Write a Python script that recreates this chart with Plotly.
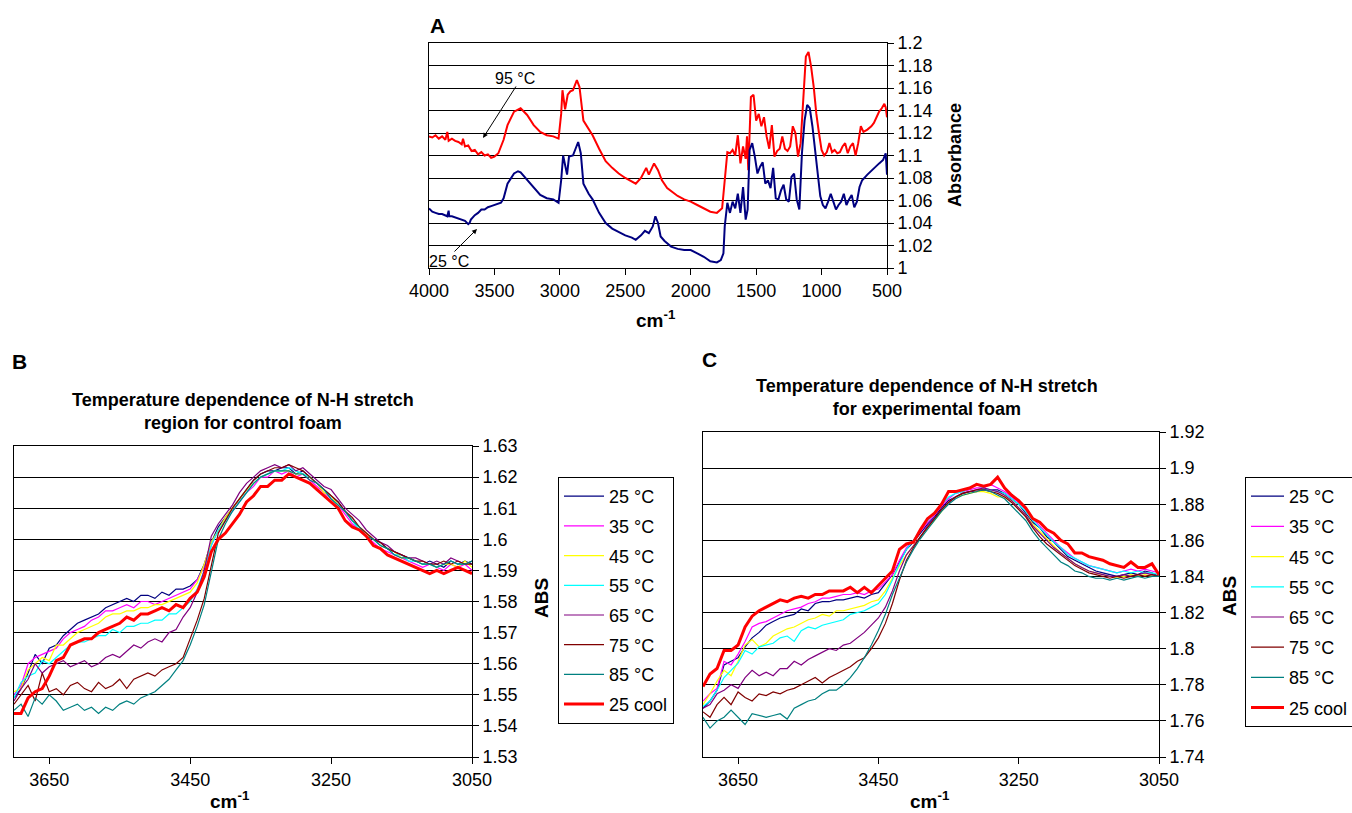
import plotly.graph_objects as go

# ---------------- Panel A data ----------------
A_RED_WN = [4000, 3975, 3950, 3925, 3900, 3875, 3860, 3850, 3825, 3800,
            3775, 3750, 3740, 3725, 3700, 3675, 3650, 3625, 3600, 3575,
            3550, 3525, 3500, 3470, 3430, 3400, 3350, 3300, 3250, 3200, 3150,
            3100, 3050, 3010, 2990, 2980, 2960, 2940, 2920, 2900, 2870,
            2850, 2820, 2780, 2750, 2700, 2650, 2600, 2550, 2500, 2450,
            2420, 2380, 2340, 2320, 2280, 2250, 2220, 2180, 2100, 2050,
            2000, 1950, 1900, 1850, 1800, 1760, 1740, 1720, 1700, 1680,
            1660, 1640, 1620, 1600, 1580, 1570, 1560, 1540, 1520, 1500,
            1480, 1460, 1440, 1420, 1400, 1380, 1360, 1340, 1320, 1300,
            1280, 1260, 1240, 1220, 1200, 1180, 1160, 1140, 1120, 1100,
            1080, 1060, 1040, 1020, 1000, 980, 960, 940, 920, 900,
            880, 860, 840, 820, 800, 780, 760, 740, 720, 700,
            680, 650, 620, 600, 580, 560, 540, 520, 510, 500]
A_RED_ABS = [1.117, 1.116, 1.118, 1.115, 1.117, 1.114, 1.121, 1.113, 1.115, 1.113,
             1.112, 1.110, 1.115, 1.108, 1.109, 1.104, 1.105, 1.101, 1.103, 1.100,
             1.101, 1.098, 1.099, 1.102, 1.114, 1.127, 1.139, 1.142, 1.136, 1.127, 1.121,
             1.118, 1.117, 1.115, 1.137, 1.158, 1.141, 1.154, 1.157, 1.158, 1.167,
             1.161, 1.131, 1.123, 1.118, 1.106, 1.095, 1.089, 1.084, 1.080, 1.077,
             1.075, 1.080, 1.089, 1.083, 1.093, 1.087, 1.078, 1.071, 1.064, 1.061,
             1.059, 1.056, 1.053, 1.050, 1.049, 1.053, 1.078, 1.103, 1.102, 1.105,
             1.100, 1.118, 1.093, 1.108, 1.097, 1.117, 1.087, 1.152, 1.154, 1.131,
             1.137, 1.126, 1.134, 1.117, 1.106, 1.127, 1.099, 1.104, 1.106, 1.117,
             1.106, 1.104, 1.108, 1.126, 1.120, 1.099, 1.111, 1.155, 1.188, 1.192,
             1.179, 1.161, 1.137, 1.120, 1.105, 1.100, 1.103, 1.111, 1.103, 1.105,
             1.102, 1.103, 1.108, 1.111, 1.102, 1.108, 1.111, 1.100, 1.111, 1.126,
             1.121, 1.123, 1.126, 1.129, 1.134, 1.139, 1.142, 1.146, 1.143, 1.134]

A_BLUE_WN = [4000, 3975, 3950, 3925, 3900, 3875, 3860, 3850, 3845, 3825,
             3800, 3775, 3750, 3725, 3700, 3690, 3680, 3650, 3625, 3600,
             3575, 3550, 3525, 3500, 3475, 3450,
             3430, 3400, 3350, 3320, 3300, 3250,
             3200, 3150, 3100, 3050, 3010, 2990, 2975, 2960, 2945, 2930,
             2900, 2880, 2860, 2840, 2820, 2780, 2750, 2700, 2650, 2600,
             2550, 2500, 2450, 2420, 2380, 2350, 2320, 2290, 2270, 2250,
             2230, 2200, 2150, 2100, 2050, 2000, 1950, 1900, 1850, 1800,
             1770, 1750, 1740, 1720, 1700, 1680, 1660, 1640, 1620, 1600,
             1580, 1565, 1550, 1530, 1510, 1490, 1470, 1450, 1430, 1410,
             1390, 1370, 1350, 1330, 1310, 1290, 1270, 1250, 1230, 1210,
             1190, 1170, 1150, 1130, 1110, 1090, 1070, 1050, 1030, 1010,
             990, 970, 950, 930, 910, 890, 870, 850, 830, 810,
             790, 770, 750, 730, 710, 690, 650, 600, 560, 530,
             510, 500]
A_BLUE_ABS = [1.053, 1.050, 1.049, 1.048, 1.048, 1.047, 1.046, 1.051, 1.046, 1.046,
              1.045, 1.044, 1.043, 1.042, 1.039, 1.040, 1.043, 1.047, 1.049, 1.052,
              1.052, 1.054, 1.055, 1.056, 1.057, 1.058,
              1.062, 1.075, 1.084, 1.086, 1.085, 1.078,
              1.071, 1.065, 1.062, 1.061, 1.058, 1.078, 1.100, 1.090, 1.083, 1.099,
              1.100, 1.106, 1.112, 1.102, 1.075, 1.066, 1.061, 1.049, 1.040, 1.035,
              1.032, 1.029, 1.027, 1.025, 1.029, 1.033, 1.031, 1.037, 1.046, 1.040,
              1.028, 1.024, 1.019, 1.017, 1.016, 1.016, 1.013, 1.010, 1.006, 1.005,
              1.007, 1.013, 1.037, 1.058, 1.049, 1.059, 1.053, 1.066, 1.049, 1.072,
              1.043, 1.052, 1.105, 1.111, 1.099, 1.084, 1.090, 1.094, 1.075, 1.078,
              1.071, 1.089, 1.062, 1.061, 1.069, 1.074, 1.061, 1.059, 1.081, 1.084,
              1.061, 1.052, 1.102, 1.131, 1.145, 1.142, 1.126, 1.105, 1.081, 1.064,
              1.056, 1.053, 1.059, 1.066, 1.059, 1.052, 1.056, 1.059, 1.066, 1.056,
              1.061, 1.065, 1.054, 1.059, 1.072, 1.078, 1.083, 1.089, 1.093, 1.096,
              1.102, 1.083]

# ---------------- Panels B and C data ----------------
WN = list(range(3700, 3049, -10))          # 3700 ... 3050 cm-1
LABELS = ["25 °C", "35 °C", "45 °C", "55 °C", "65 °C", "75 °C", "85 °C", "25 cool"]
COLORS = ["#000080", "#FF00FF", "#FFFF00", "#00FFFF", "#800080", "#800000", "#008080", "#FF0000"]

B_25 = [1.549, 1.552, 1.557, 1.563, 1.560, 1.565, 1.566, 1.569, 1.571, 1.573, 1.574, 1.575, 1.576, 1.578,
        1.579, 1.580, 1.581, 1.580, 1.582, 1.582, 1.581, 1.583, 1.582, 1.584, 1.584, 1.585, 1.587,
        1.592, 1.599, 1.604, 1.607, 1.610, 1.613, 1.616, 1.619, 1.621, 1.622, 1.622, 1.623, 1.623,
        1.621, 1.622, 1.620, 1.618, 1.616, 1.614, 1.612, 1.609, 1.606, 1.604, 1.602, 1.600, 1.599,
        1.597, 1.596, 1.595, 1.594, 1.593, 1.592, 1.593, 1.592, 1.591, 1.593, 1.592, 1.593, 1.592]
B_35 = [1.550, 1.553, 1.560, 1.562, 1.563, 1.564, 1.565, 1.568, 1.570, 1.571, 1.572, 1.574, 1.575, 1.577,
        1.577, 1.578, 1.579, 1.578, 1.580, 1.580, 1.579, 1.580, 1.581, 1.582, 1.583, 1.584, 1.587,
        1.591, 1.598, 1.603, 1.606, 1.609, 1.612, 1.615, 1.617, 1.620, 1.620, 1.622, 1.621, 1.622,
        1.620, 1.621, 1.619, 1.617, 1.615, 1.613, 1.611, 1.608, 1.605, 1.603, 1.601, 1.599, 1.597,
        1.596, 1.595, 1.594, 1.593, 1.592, 1.591, 1.592, 1.591, 1.590, 1.592, 1.591, 1.592, 1.590]
B_45 = [1.551, 1.552, 1.558, 1.560, 1.562, 1.561, 1.566, 1.566, 1.568, 1.570, 1.571, 1.572, 1.573, 1.575,
        1.576, 1.576, 1.577, 1.577, 1.578, 1.578, 1.579, 1.579, 1.580, 1.581, 1.582, 1.583, 1.586,
        1.592, 1.599, 1.603, 1.607, 1.610, 1.613, 1.616, 1.618, 1.620, 1.621, 1.622, 1.622, 1.622,
        1.621, 1.621, 1.620, 1.618, 1.615, 1.614, 1.611, 1.609, 1.606, 1.604, 1.602, 1.600, 1.598,
        1.597, 1.596, 1.594, 1.594, 1.593, 1.592, 1.592, 1.591, 1.592, 1.592, 1.591, 1.593, 1.591]
B_55 = [1.549, 1.554, 1.556, 1.557, 1.561, 1.560, 1.562, 1.564, 1.566, 1.567, 1.567, 1.568, 1.569, 1.569,
        1.571, 1.570, 1.572, 1.572, 1.573, 1.573, 1.574, 1.574, 1.576, 1.576, 1.578, 1.580, 1.584,
        1.590, 1.598, 1.603, 1.606, 1.609, 1.612, 1.615, 1.618, 1.620, 1.621, 1.622, 1.622, 1.623,
        1.622, 1.621, 1.620, 1.618, 1.616, 1.613, 1.611, 1.609, 1.606, 1.603, 1.601, 1.600, 1.598,
        1.597, 1.595, 1.595, 1.593, 1.593, 1.592, 1.592, 1.591, 1.592, 1.593, 1.592, 1.592, 1.593]
B_65 = [1.548, 1.552, 1.555, 1.560, 1.557, 1.559, 1.560, 1.561, 1.559, 1.560, 1.561, 1.559, 1.560, 1.562,
        1.563, 1.562, 1.564, 1.566, 1.565, 1.567, 1.568, 1.567, 1.570, 1.571, 1.575, 1.578, 1.583,
        1.590, 1.601, 1.605, 1.608, 1.611, 1.615, 1.618, 1.620, 1.622, 1.623, 1.624, 1.623, 1.624,
        1.622, 1.623, 1.621, 1.619, 1.617, 1.616, 1.613, 1.610, 1.608, 1.606, 1.603, 1.601, 1.599,
        1.598, 1.596, 1.595, 1.594, 1.594, 1.593, 1.592, 1.593, 1.592, 1.594, 1.593, 1.592, 1.593]
B_75 = [1.547, 1.550, 1.553, 1.548, 1.557, 1.551, 1.552, 1.550, 1.553, 1.554, 1.552, 1.551, 1.554, 1.552,
        1.553, 1.555, 1.552, 1.555, 1.556, 1.557, 1.556, 1.558, 1.559, 1.560, 1.562, 1.568, 1.574,
        1.581, 1.592, 1.602, 1.606, 1.610, 1.613, 1.616, 1.619, 1.621, 1.622, 1.623, 1.623, 1.624,
        1.623, 1.622, 1.620, 1.618, 1.616, 1.614, 1.612, 1.609, 1.607, 1.604, 1.602, 1.600, 1.599,
        1.597, 1.596, 1.595, 1.594, 1.593, 1.593, 1.592, 1.592, 1.593, 1.592, 1.593, 1.592, 1.592]
B_85 = [1.545, 1.547, 1.543, 1.549, 1.547, 1.550, 1.548, 1.545, 1.546, 1.547, 1.545, 1.546, 1.544, 1.546,
        1.545, 1.547, 1.548, 1.547, 1.549, 1.550, 1.551, 1.553, 1.555, 1.558, 1.561, 1.566, 1.572,
        1.579, 1.590, 1.600, 1.605, 1.609, 1.612, 1.615, 1.618, 1.620, 1.621, 1.622, 1.622, 1.622,
        1.621, 1.621, 1.619, 1.618, 1.616, 1.613, 1.611, 1.609, 1.606, 1.604, 1.601, 1.600, 1.598,
        1.597, 1.595, 1.594, 1.594, 1.593, 1.592, 1.592, 1.591, 1.592, 1.593, 1.592, 1.592, 1.593]
B_COOL = [1.544, 1.544, 1.549, 1.551, 1.552, 1.556, 1.561, 1.562, 1.566, 1.567, 1.568, 1.568, 1.570, 1.571,
          1.572, 1.573, 1.575, 1.574, 1.576, 1.576, 1.577, 1.578, 1.577, 1.579, 1.578, 1.581, 1.583,
          1.588, 1.596, 1.600, 1.602, 1.605, 1.608, 1.612, 1.614, 1.617, 1.617, 1.619, 1.619, 1.621,
          1.620, 1.619, 1.618, 1.616, 1.614, 1.612, 1.610, 1.606, 1.604, 1.603, 1.601, 1.598, 1.597,
          1.595, 1.594, 1.593, 1.592, 1.591, 1.590, 1.589, 1.590, 1.589, 1.590, 1.591, 1.590, 1.589]

C_25 = [1.767, 1.771, 1.777, 1.791, 1.793, 1.795, 1.801, 1.806, 1.809, 1.813, 1.815, 1.817, 1.818, 1.819,
        1.822, 1.821, 1.825, 1.826, 1.826, 1.827, 1.827, 1.828, 1.829, 1.828, 1.830, 1.831, 1.836,
        1.841, 1.848, 1.855, 1.859, 1.864, 1.869, 1.873, 1.878, 1.882, 1.884, 1.886, 1.887, 1.887,
        1.888, 1.888, 1.888, 1.886, 1.883, 1.880, 1.875, 1.870, 1.867, 1.862, 1.859, 1.855, 1.851,
        1.849, 1.847, 1.845, 1.843, 1.842, 1.841, 1.840, 1.841, 1.842, 1.841, 1.843, 1.842, 1.840]
C_35 = [1.771, 1.775, 1.778, 1.793, 1.791, 1.797, 1.804, 1.812, 1.814, 1.815, 1.817, 1.819, 1.821, 1.822,
        1.823, 1.825, 1.826, 1.828, 1.828, 1.829, 1.830, 1.830, 1.831, 1.830, 1.832, 1.833, 1.837,
        1.841, 1.849, 1.856, 1.860, 1.865, 1.870, 1.874, 1.879, 1.883, 1.886, 1.887, 1.888, 1.889,
        1.889, 1.891, 1.889, 1.887, 1.884, 1.881, 1.877, 1.872, 1.868, 1.864, 1.860, 1.856, 1.853,
        1.850, 1.848, 1.846, 1.845, 1.844, 1.843, 1.842, 1.843, 1.844, 1.843, 1.844, 1.843, 1.842]
C_45 = [1.769, 1.775, 1.782, 1.788, 1.785, 1.793, 1.802, 1.805, 1.801, 1.803, 1.807, 1.809, 1.811, 1.812,
        1.814, 1.816, 1.817, 1.819, 1.818, 1.821, 1.821, 1.822, 1.823, 1.824, 1.826, 1.827, 1.832,
        1.839, 1.846, 1.852, 1.857, 1.862, 1.867, 1.871, 1.876, 1.881, 1.884, 1.885, 1.886, 1.887,
        1.887, 1.886, 1.884, 1.884, 1.882, 1.878, 1.874, 1.869, 1.865, 1.861, 1.857, 1.853, 1.850,
        1.847, 1.845, 1.843, 1.842, 1.841, 1.840, 1.839, 1.840, 1.841, 1.840, 1.841, 1.840, 1.840]
C_55 = [1.768, 1.771, 1.777, 1.784, 1.788, 1.792, 1.799, 1.797, 1.801, 1.802, 1.803, 1.806, 1.807, 1.804,
        1.810, 1.812, 1.811, 1.813, 1.814, 1.815, 1.816, 1.819, 1.820, 1.821, 1.823, 1.825, 1.830,
        1.838, 1.847, 1.855, 1.860, 1.866, 1.871, 1.875, 1.880, 1.884, 1.886, 1.887, 1.889, 1.891,
        1.889, 1.888, 1.887, 1.886, 1.883, 1.880, 1.876, 1.871, 1.867, 1.863, 1.859, 1.856, 1.852,
        1.850, 1.848, 1.846, 1.845, 1.844, 1.843, 1.842, 1.843, 1.842, 1.843, 1.842, 1.842, 1.841]
C_65 = [1.767, 1.769, 1.775, 1.777, 1.780, 1.778, 1.784, 1.788, 1.785, 1.787, 1.785, 1.789, 1.789, 1.793,
        1.791, 1.794, 1.796, 1.798, 1.800, 1.799, 1.802, 1.803, 1.806, 1.809, 1.813, 1.817, 1.823,
        1.832, 1.843, 1.852, 1.857, 1.862, 1.868, 1.872, 1.877, 1.881, 1.884, 1.886, 1.887, 1.888,
        1.889, 1.888, 1.887, 1.885, 1.882, 1.878, 1.874, 1.868, 1.864, 1.860, 1.856, 1.853, 1.850,
        1.847, 1.845, 1.843, 1.842, 1.841, 1.840, 1.840, 1.841, 1.840, 1.841, 1.842, 1.841, 1.840]
C_75 = [1.765, 1.762, 1.769, 1.773, 1.769, 1.776, 1.773, 1.771, 1.775, 1.774, 1.776, 1.775, 1.777, 1.778,
        1.780, 1.782, 1.784, 1.781, 1.784, 1.786, 1.788, 1.790, 1.793, 1.795, 1.800, 1.806, 1.814,
        1.825, 1.838, 1.849, 1.856, 1.862, 1.867, 1.872, 1.877, 1.881, 1.884, 1.886, 1.887, 1.888,
        1.888, 1.887, 1.886, 1.884, 1.881, 1.877, 1.873, 1.867, 1.862, 1.858, 1.855, 1.852, 1.849,
        1.846, 1.844, 1.842, 1.841, 1.840, 1.839, 1.840, 1.839, 1.840, 1.841, 1.840, 1.841, 1.840]
C_85 = [1.762, 1.756, 1.760, 1.762, 1.766, 1.762, 1.758, 1.764, 1.763, 1.762, 1.763, 1.764, 1.761, 1.767,
        1.769, 1.771, 1.772, 1.775, 1.777, 1.777, 1.780, 1.784, 1.789, 1.795, 1.802, 1.810, 1.819,
        1.830, 1.839, 1.848, 1.855, 1.861, 1.866, 1.871, 1.876, 1.880, 1.883, 1.885, 1.886, 1.887,
        1.888, 1.887, 1.885, 1.883, 1.879, 1.875, 1.871, 1.865, 1.860, 1.856, 1.852, 1.848, 1.846,
        1.843, 1.842, 1.840, 1.839, 1.839, 1.838, 1.839, 1.838, 1.839, 1.840, 1.839, 1.840, 1.840]
C_COOL = [1.779, 1.786, 1.789, 1.799, 1.799, 1.802, 1.812, 1.818, 1.821, 1.823, 1.825, 1.827, 1.826, 1.828,
          1.829, 1.828, 1.830, 1.830, 1.832, 1.832, 1.832, 1.834, 1.831, 1.834, 1.831, 1.835, 1.839,
          1.843, 1.855, 1.858, 1.859, 1.866, 1.872, 1.875, 1.880, 1.887, 1.887, 1.888, 1.889, 1.891,
          1.890, 1.891, 1.895, 1.889, 1.885, 1.882, 1.878, 1.872, 1.870, 1.866, 1.864, 1.860, 1.858,
          1.853, 1.853, 1.851, 1.850, 1.849, 1.847, 1.846, 1.845, 1.848, 1.845, 1.845, 1.847, 1.841]

B_SERIES = [B_25, B_35, B_45, B_55, B_65, B_75, B_85, B_COOL]
C_SERIES = [C_25, C_35, C_45, C_55, C_65, C_75, C_85, C_COOL]
for s in B_SERIES + C_SERIES:
    assert len(s) == len(WN), len(s)
assert len(A_RED_WN) == len(A_RED_ABS), (len(A_RED_WN), len(A_RED_ABS))
assert len(A_BLUE_WN) == len(A_BLUE_ABS), (len(A_BLUE_WN), len(A_BLUE_ABS))

FONT = "Liberation Sans, Arial, sans-serif"
W, H = 1352, 813


def px_x(p):
    return p / W


def px_y(p):
    return 1 - p / H


fig = go.Figure()

# Panel A traces
fig.add_trace(go.Scatter(x=A_RED_WN, y=A_RED_ABS, mode="lines", line=dict(color="#FF0000", width=2),
                         xaxis="x", yaxis="y", showlegend=False))
fig.add_trace(go.Scatter(x=A_BLUE_WN, y=A_BLUE_ABS, mode="lines", line=dict(color="#000080", width=2),
                         xaxis="x", yaxis="y", showlegend=False))

# Panel B & C traces
for i, (lab, col) in enumerate(zip(LABELS, COLORS)):
    w = 3 if lab == "25 cool" else 1.2
    fig.add_trace(go.Scatter(x=WN, y=B_SERIES[i], mode="lines", name=lab,
                             line=dict(color=col, width=w), xaxis="x2", yaxis="y2",
                             legend="legend", legendgroup=f"b{i}"))
for i, (lab, col) in enumerate(zip(LABELS, COLORS)):
    w = 3 if lab == "25 cool" else 1.2
    fig.add_trace(go.Scatter(x=WN, y=C_SERIES[i], mode="lines", name=lab,
                             line=dict(color=col, width=w), xaxis="x3", yaxis="y3",
                             legend="legend2", legendgroup=f"c{i}"))

tickfont = dict(family=FONT, size=18, color="black")

xa_common = dict(showgrid=False, showline=True, linecolor="black", linewidth=1, mirror=True,
                 ticks="outside", ticklen=6, tickcolor="black", tickfont=tickfont, zeroline=False,
                 automargin=False)
ya_common = dict(showgrid=True, gridcolor="black", gridwidth=1, showline=True, linecolor="black",
                 linewidth=1, mirror=True, side="right", ticks="outside", ticklen=6,
                 tickcolor="black", tickfont=tickfont, zeroline=False, automargin=False)

A_YT = [1.0, 1.02, 1.04, 1.06, 1.08, 1.1, 1.12, 1.14, 1.16, 1.18, 1.2]
B_YT = [1.53, 1.54, 1.55, 1.56, 1.57, 1.58, 1.59, 1.6, 1.61, 1.62, 1.63]
C_YT = [1.74, 1.76, 1.78, 1.8, 1.82, 1.84, 1.86, 1.88, 1.9, 1.92]

fig.update_layout(
    width=W, height=H, paper_bgcolor="white", plot_bgcolor="white",
    margin=dict(l=0, r=0, t=0, b=0, pad=0, autoexpand=False),
    font=dict(family=FONT, color="black"),
    xaxis=dict(domain=[px_x(429), px_x(887)], range=[4000, 500], anchor="y",
               tickvals=[4000, 3500, 3000, 2500, 2000, 1500, 1000, 500], **xa_common),
    yaxis=dict(domain=[px_y(268), px_y(43)], range=[1.0, 1.2], anchor="x",
               tickvals=A_YT, ticktext=[f"{v:g}" for v in A_YT], **ya_common),
    xaxis2=dict(domain=[px_x(14), px_x(472)], range=[3700, 3050], anchor="y2",
                tickvals=[3650, 3450, 3250, 3050], **xa_common),
    yaxis2=dict(domain=[px_y(757), px_y(446)], range=[1.53, 1.63], anchor="x2",
                tickvals=B_YT, ticktext=[f"{v:g}" for v in B_YT], **ya_common),
    xaxis3=dict(domain=[px_x(703), px_x(1159)], range=[3700, 3050], anchor="y3",
                tickvals=[3650, 3450, 3250, 3050], **xa_common),
    yaxis3=dict(domain=[px_y(757), px_y(432)], range=[1.74, 1.92], anchor="x3",
                tickvals=C_YT, ticktext=[f"{v:g}" for v in C_YT], **ya_common),
    legend=dict(x=px_x(558), y=px_y(477), xanchor="left", yanchor="top",
                bordercolor="black", borderwidth=1, bgcolor="white",
                font=dict(family=FONT, size=18, color="black"),
                tracegroupgap=3.3, itemwidth=40, traceorder="grouped"),
    legend2=dict(x=px_x(1245), y=px_y(477), xanchor="left", yanchor="top",
                 bordercolor="black", borderwidth=1, bgcolor="white",
                 font=dict(family=FONT, size=18, color="black"),
                 tracegroupgap=3.8, itemwidth=33, traceorder="grouped"),
)

bold = lambda s: dict(family=FONT, size=s, color="black")
ann = []
# Panel labels
ann.append(dict(x=px_x(437), y=px_y(25), text="<b>A</b>", font=bold(21)))
ann.append(dict(x=px_x(19), y=px_y(361), text="<b>B</b>", font=bold(21)))
ann.append(dict(x=px_x(709), y=px_y(359), text="<b>C</b>", font=bold(21)))
# Chart titles
ann.append(dict(x=px_x(243), y=px_y(411),
                text="<b>Temperature dependence of N-H stretch<br>region for control foam</b>", font=bold(18)))
ann.append(dict(x=px_x(927), y=px_y(397),
                text="<b>Temperature dependence of N-H stretch<br>for experimental foam</b>", font=bold(18)))
# Axis titles
ann.append(dict(x=px_x(656), y=px_y(319), text="<b>cm<sup>-1</sup></b>", font=bold(19)))
ann.append(dict(x=px_x(230), y=px_y(800), text="<b>cm<sup>-1</sup></b>", font=bold(19)))
ann.append(dict(x=px_x(930), y=px_y(800), text="<b>cm<sup>-1</sup></b>", font=bold(19)))
ann.append(dict(x=px_x(955), y=px_y(155), text="<b>Absorbance</b>", font=bold(18), textangle=-90))
ann.append(dict(x=px_x(541), y=px_y(598), text="<b>ABS</b>", font=bold(19), textangle=-90))
ann.append(dict(x=px_x(1229), y=px_y(596), text="<b>ABS</b>", font=bold(19), textangle=-90))
for a in ann:
    a.update(xref="paper", yref="paper", showarrow=False, xanchor="center", yanchor="middle")
    fig.add_annotation(**a)

# Panel A callouts
fig.add_annotation(x=3587, y=1.1156, ax=3328, ay=1.1627, xref="x", yref="y", axref="x", ayref="y",
                   text="", showarrow=True, arrowhead=2, arrowsize=1, arrowwidth=1, arrowcolor="black")
fig.add_annotation(x=3343, y=1.1685, xref="x", yref="y", text="95 °C", showarrow=False,
                   font=dict(family=FONT, size=16, color="black"))
fig.add_annotation(x=3633, y=1.0347, ax=3817, ay=1.0133, xref="x", yref="y", axref="x", ayref="y",
                   text="", showarrow=True, arrowhead=2, arrowsize=1, arrowwidth=1, arrowcolor="black")
fig.add_annotation(x=3845, y=1.0062, xref="x", yref="y", text="25 °C", showarrow=False,
                   font=dict(family=FONT, size=16, color="black"))

fig.write_html("out.html", config={"displayModeBar": False},
               post_script="document.body.style.margin='0';document.body.style.overflow='hidden';")
